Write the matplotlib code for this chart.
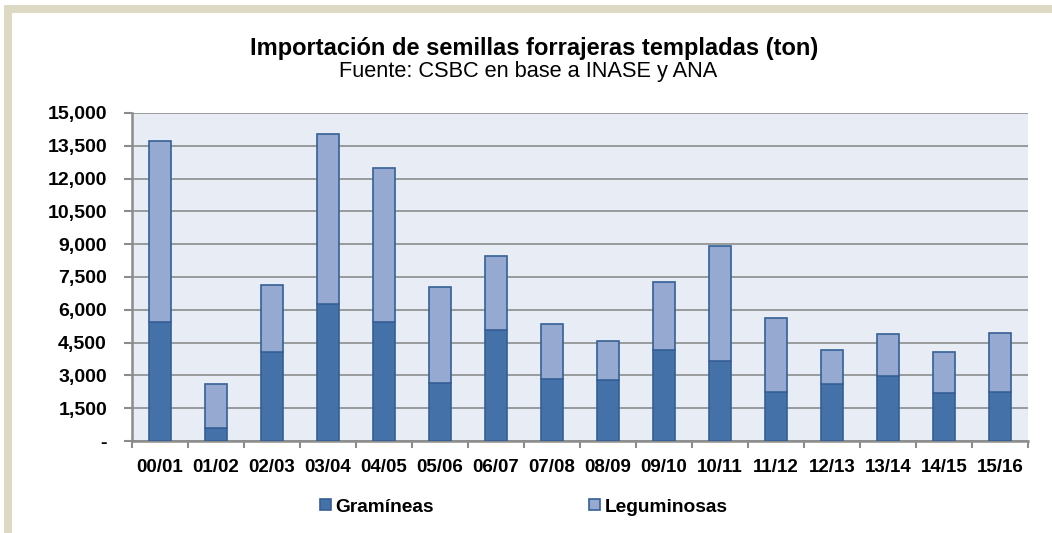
import numpy as np
import matplotlib.pyplot as plt
import matplotlib.ticker as ticker
from matplotlib.patches import Rectangle

plt.rcParams['font.family'] = ['Liberation Sans', 'DejaVu Sans']

campanas = ['00/01', '01/02', '02/03', '03/04', '04/05', '05/06', '06/07', '07/08',
            '08/09', '09/10', '10/11', '11/12', '12/13', '13/14', '14/15', '15/16']
totales = [13720, 2610, 7130, 14040, 12490, 7030, 8460, 5370,
           4590, 7290, 8920, 5640, 4180, 4910, 4080, 4950]
gramineas = [5440, 590, 4080, 6250, 5460, 2670, 5080, 2820,
             2790, 4160, 3660, 2260, 2620, 2990, 2180, 2240]
leguminosas = [t - g for t, g in zip(totales, gramineas)]

c_gram = '#4472A8'
c_leg = '#95A9D1'
c_edge = '#355F96'

fig = plt.figure(figsize=(10.52, 5.33), dpi=100)
# marco beige arriba y a la izquierda
fig.patches.append(Rectangle((4/1052, 0), 8/1052, 1 - 5/533, transform=fig.transFigure,
                             facecolor='#DDD9C3', edgecolor='none', zorder=0))
fig.patches.append(Rectangle((4/1052, 1 - 13/533), 1, 8/533, transform=fig.transFigure,
                             facecolor='#DDD9C3', edgecolor='none', zorder=0))

ax = fig.add_axes([132/1052, 92/533, 896/1052, 328/533])
ax.set_facecolor('#E8ECF4')

x = np.arange(len(campanas))
w = 0.41
b1 = ax.bar(x, gramineas, w, color=c_gram, edgecolor=c_edge, linewidth=1.2,
            label='Gramíneas', zorder=3)
b2 = ax.bar(x, leguminosas, w, bottom=gramineas, color=c_leg, edgecolor=c_edge,
            linewidth=1.2, label='Leguminosas', zorder=3)

ax.set_xlim(-0.5, len(campanas) - 0.5)
ax.set_ylim(0, 15000)
ax.yaxis.set_major_locator(ticker.MultipleLocator(1500))
ax.yaxis.set_major_formatter(ticker.FuncFormatter(
    lambda v, p: '-' if v == 0 else f'{int(v):,}'))
ax.grid(axis='y', color='#8C8C8C', linewidth=1.2, zorder=1)

ax.set_xticks(x)
ax.set_xticklabels(campanas)
ax.set_xticks(np.arange(-0.5, len(campanas)), minor=True)
ax.tick_params(axis='x', which='major', length=0, pad=13)
ax.tick_params(axis='x', which='minor', length=5, width=1.5, color='#8C8C8C')
ax.tick_params(axis='y', length=6, width=1.5, color='#8C8C8C', pad=12)

for lab in ax.get_xticklabels():
    lab.set_fontweight('bold')
    lab.set_fontsize(13.5)
for lab in ax.get_yticklabels():
    lab.set_fontweight('bold')
    lab.set_fontsize(14)

for s in ['top', 'right']:
    ax.spines[s].set_visible(False)
for s in ['left', 'bottom']:
    ax.spines[s].set_color('#8C8C8C')
    ax.spines[s].set_linewidth(1.8)

fig.text(534/1052, 1 - 48/533, 'Importación de semillas forrajeras templadas (ton)',
         ha='center', va='center', fontsize=17, fontweight='bold')
fig.text(528/1052, 1 - 72/533, 'Fuente: CSBC en base a INASE y ANA',
         ha='center', va='center', fontsize=15.7)

fig.legend(handles=[b1, b2], labels=['Gramíneas', 'Leguminosas'],
           loc='center', bbox_to_anchor=(524/1052, 1 - 507/533), ncol=2, frameon=False,
           prop={'weight': 'bold', 'size': 13.8}, handlelength=0.55, handleheight=0.55,
           handletextpad=0.25, columnspacing=8.1)

fig.savefig('out.png', dpi=100)
